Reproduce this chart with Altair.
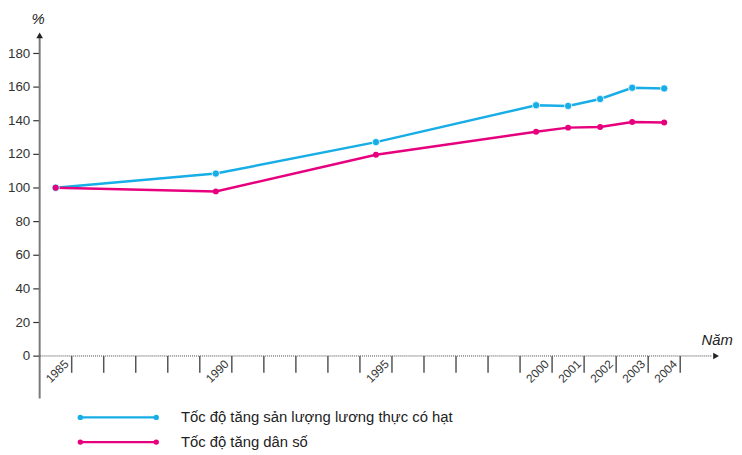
import altair as alt
import pandas as pd

# ---- data ----
years = [1985, 1990, 1995, 2000, 2001, 2002, 2003, 2004]
food_growth = [100, 108.4, 127.1, 149.0, 148.6, 152.7, 159.4, 159.0]
pop_growth = [100, 97.8, 119.6, 133.3, 135.7, 136.1, 139.0, 138.8]
series_names = ["Tốc độ tăng sản lượng lương thực có hạt", "Tốc độ tăng dân số"]
series_colors = ["#17ade6", "#e6007e"]
y_ticks = [0, 20, 40, 60, 80, 100, 120, 140, 160, 180]
label_years = [1985, 1990, 1995, 2000, 2001, 2002, 2003, 2004]
all_years = list(range(1985, 2005))
y_unit = "%"
x_unit = "Năm"

FONT = "Liberation Sans"
AXIS_COL = "#333333"

# ---- tables ----
rows = []
for name, vals in zip(series_names, [food_growth, pop_growth]):
    for yr, v in zip(years, vals):
        rows.append({"year": yr, "value": v, "series": name})
df = pd.DataFrame(rows)

xs = alt.Scale(domain=[1984.5, 2005.5], nice=False, zero=False)
ys = alt.Scale(domain=[-58, 193], nice=False, zero=False)
col = alt.Scale(domain=series_names, range=series_colors)

y_axis = alt.Axis(
    values=y_ticks, domain=False, grid=False, tickSize=7, tickWidth=1.2,
    tickColor=AXIS_COL, labelColor=AXIS_COL, labelFont=FONT,
    labelFontSize=13.5, labelPadding=3, title=None)

X = lambda f: alt.X(f, type="quantitative", scale=xs, axis=None)
Y = lambda f: alt.Y(f, type="quantitative", scale=ys, axis=y_axis)

# y axis line with arrow
yline = alt.Chart(pd.DataFrame({"x": [1984.5], "y1": [-25.3], "y2": [190]})).mark_rule(
    color="#7a7a7a", strokeWidth=2).encode(x=X("x"), y=Y("y1"), y2="y2")
yarrow = alt.Chart(pd.DataFrame({"x": [1984.5], "y": [190.5]})).mark_point(
    shape="triangle-up", filled=True, size=45, color="#222222", opacity=1).encode(x=X("x"), y=Y("y"))

# x axis dotted line with arrow
xline = alt.Chart(pd.DataFrame({"x1": [1984.5], "x2": [2005.5], "y": [0]})).mark_rule(
    color="#444444", strokeWidth=1, strokeDash=[1, 1]).encode(x=X("x1"), x2="x2", y=Y("y"))
xarrow = alt.Chart(pd.DataFrame({"x": [2005.62], "y": [0]})).mark_point(
    shape="triangle-right", filled=True, size=45, color="#222222", opacity=1).encode(x=X("x"), y=Y("y"))

# year boundary ticks
tick_df = pd.DataFrame({"x": [y + 0.5 for y in all_years], "y1": [0] * len(all_years), "y2": [-10] * len(all_years)})
xticks = alt.Chart(tick_df).mark_rule(color="#555555", strokeWidth=1.5).encode(
    x=X("x"), y=Y("y1"), y2="y2")

# rotated year labels
lab_df = pd.DataFrame({"label": [str(y) for y in label_years],
                       "x": [y + 0.5 - 0.16 for y in label_years],
                       "y": [-3.6] * len(label_years)})
xlabels = alt.Chart(lab_df).mark_text(
    angle=315, align="right", baseline="middle", font=FONT, fontSize=12, color=AXIS_COL).encode(
    x=X("x"), y=Y("y"), text="label")

# axis titles
unit_df = pd.DataFrame({"t": [y_unit], "x": [1984.45], "y": [200.5]})
yunit = alt.Chart(unit_df).mark_text(
    font=FONT, fontSize=15, fontStyle="italic", color="#222222", align="center", baseline="middle").encode(
    x=X("x"), y=Y("y"), text="t")
xunit_df = pd.DataFrame({"t": [x_unit], "x": [2006.14], "y": [6.5]})
xunit = alt.Chart(xunit_df).mark_text(
    font=FONT, fontSize=15, fontStyle="italic", color="#222222", align="right", baseline="alphabetic").encode(
    x=X("x"), y=Y("y"), text="t")

# series
lines = alt.Chart(df).mark_line(strokeWidth=2.5).encode(
    x=X("year"), y=Y("value"),
    color=alt.Color("series:N", scale=col, legend=None),
    detail="series:N")
food_pts = alt.Chart(df[df.series == series_names[0]]).mark_circle(
    size=55, opacity=1, stroke="white", strokeWidth=0.8).encode(
    x=X("year"), y=Y("value"), fill=alt.Fill("series:N", scale=col, legend=None))
pop_pts = alt.Chart(df[df.series == series_names[1]]).mark_circle(
    size=36, opacity=1, strokeWidth=0).encode(
    x=X("year"), y=Y("value"), fill=alt.Fill("series:N", scale=col, legend=None))

# manual legend
leg_df = pd.DataFrame({"series": series_names, "x1": [1985.77, 1985.77], "x2": [1988.14, 1988.14],
                       "xt": [1988.91, 1988.91], "y": [-36.5, -51.2]})
leg_line = alt.Chart(leg_df).mark_rule(strokeWidth=2.5).encode(
    x=X("x1"), x2="x2", y=Y("y"), color=alt.Color("series:N", scale=col, legend=None))
leg_pts_a = alt.Chart(leg_df).mark_circle(size=30, opacity=1).encode(
    x=X("x1"), y=Y("y"), color=alt.Color("series:N", scale=col, legend=None))
leg_pts_b = alt.Chart(leg_df).mark_circle(size=30, opacity=1).encode(
    x=X("x2"), y=Y("y"), color=alt.Color("series:N", scale=col, legend=None))
leg_text = alt.Chart(leg_df).mark_text(
    align="left", baseline="middle", font=FONT, fontSize=15, color="#222222").encode(
    x=X("xt"), y=Y("y"), text="series:N")

chart = alt.layer(
    yline, yarrow, xline, xarrow, xticks, xlabels, yunit, xunit,
    lines, food_pts, pop_pts, leg_line, leg_pts_a, leg_pts_b, leg_text
).properties(
    width=680, height=427,
    autosize=alt.AutoSizeParams(type="none"),
    padding={"left": 32, "top": 21, "right": 22, "bottom": 0},
).configure_view(stroke=None)

chart.save("out.html", embed_options={"renderer": "svg", "actions": False})
